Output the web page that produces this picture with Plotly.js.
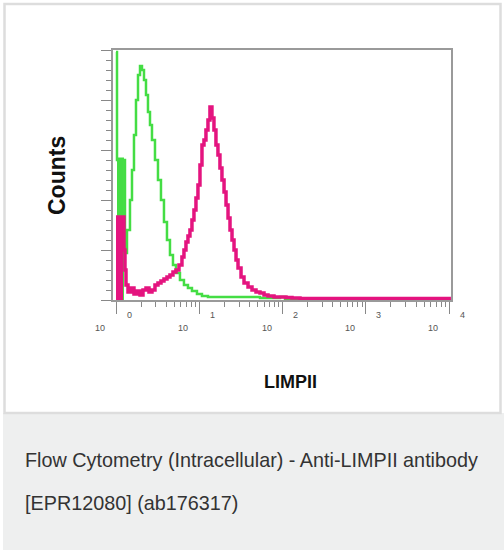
<!DOCTYPE html>
<html>
<head>
<meta charset="utf-8">
<script src="https://cdn.plot.ly/plotly-3.0.1.min.js"></script>
<style>
html,body{margin:0;padding:0;background:#fff;}
#chart{width:504px;height:550px;}
</style>
</head>
<body>
<div id="chart"></div>
<script>
// ---- data ----
// fluorescence intensity (log axis) and counts, step histograms
var greenX = [1.0, 1.028, 1.282, 1.355, 1.472, 1.556, 1.644, 1.738, 1.837, 1.942, 2.051, 2.168, 2.291, 2.421, 2.559, 2.704, 2.938, 3.192, 3.467, 3.767, 4.093, 4.446, 4.831, 5.248, 5.861, 6.546, 7.311, 8.166, 9.376, 10.77, 12.71, 15.85, 19.82, 27.6, 38.46, 53.58, 70.6, 93.1, 106.9, 122.7, 161.8, 10500];
var greenY = [248, 140, 47, 70, 100, 130, 165, 200, 225, 234, 230, 220, 205, 188, 175, 160, 140, 120, 100, 78, 60, 45, 35, 27, 20, 15, 12, 9, 6, 4, 3, 3, 3, 3, 3, 2, 2, 3, 1, 1, 0, 0];
var greenLowX = [1.028, 1.247];
var greenLowY = [142, 142];

var pinkX = [1.0, 1.247, 1.282, 1.318, 1.393, 1.514, 1.644, 1.787, 1.942, 2.109, 2.291, 2.489, 2.704, 2.938, 3.192, 3.467, 3.767, 4.093, 4.446, 4.831, 5.248, 5.702, 6.194, 6.546, 6.918, 7.311, 7.727, 8.166, 8.630, 9.120, 9.638, 10.19, 10.77, 11.38, 12.02, 12.71, 13.43, 14.19, 15.00, 15.85, 16.75, 17.70, 18.71, 19.82, 20.94, 22.13, 23.38, 24.71, 26.12, 27.60, 29.17, 31.70, 34.43, 38.46, 42.95, 47.97, 53.58, 59.84, 66.83, 78.9, 93.1, 109.9, 129.7, 161.8, 10500];
var pinkY = [83, 50, 30, 15, 8, 12, 6, 9, 5, 10, 12, 8, 10, 15, 17, 19, 21, 23, 25, 28, 30, 35, 43, 50, 58, 64, 70, 80, 90, 102, 115, 135, 155, 160, 170, 180, 193, 182, 170, 155, 145, 132, 120, 108, 95, 82, 70, 60, 50, 40, 32, 23, 17, 13, 10, 8, 7, 5, 4, 3, 3, 2.5, 2, 1.5, 1.5];
var pinkLowX = [1.0, 1.213];
var pinkLowY = [83, 83];

var decadeExps = ['0', '1', '2', '3', '4'];
var decadeBase = '10';
var xTitle = 'LIMPII';
var yTitle = 'Counts';
var captionLine1 = 'Flow Cytometry (Intracellular) - Anti-LIMPII antibody';
var captionLine2 = '[EPR12080] (ab176317)';

// ---- layout geometry ----
var W = 504, H = 550;
var L = 113, R = 451, T = 50, B = 300;
var PW = R - L, PH = B - T;
function px(x){ return (x - L) / PW; }
function py(y){ return (B - y) / PH; }

var GREEN = '#44dd44';
var PINK = '#e4147f';
var FONT = 'Liberation Sans, Arial, sans-serif';

var traces = [
  {x: greenLowX, y: greenLowY, type: 'scatter', mode: 'lines', line: {shape: 'hv', color: GREEN, width: 1}, fill: 'tozeroy', fillcolor: GREEN, hoverinfo: 'skip', showlegend: false},
  {x: greenX, y: greenY, type: 'scatter', mode: 'lines', line: {shape: 'hv', color: GREEN, width: 2.5}, showlegend: false},
  {x: pinkLowX, y: pinkLowY, type: 'scatter', mode: 'lines', line: {shape: 'hv', color: PINK, width: 1}, fill: 'tozeroy', fillcolor: PINK, hoverinfo: 'skip', showlegend: false},
  {x: pinkX, y: pinkY, type: 'scatter', mode: 'lines', line: {shape: 'hv', color: PINK, width: 3.5}, showlegend: false}
];

var annotations = [];
decadeExps.forEach(function(e){
  var k = parseFloat(e);
  annotations.push({xref: 'x', yref: 'paper', x: k, y: py(328), xshift: -16, text: decadeBase, showarrow: false,
    font: {family: FONT, size: 9, color: '#555'}, xanchor: 'center', yanchor: 'middle'});
  annotations.push({xref: 'x', yref: 'paper', x: k, y: py(315), xshift: 13, text: e, showarrow: false,
    font: {family: FONT, size: 9, color: '#555'}, xanchor: 'center', yanchor: 'middle'});
});
annotations.push({xref: 'paper', yref: 'paper', x: px(290), y: py(382), text: '<b>' + xTitle + '</b>', showarrow: false,
  font: {family: FONT, size: 18, color: '#111'}, xanchor: 'center', yanchor: 'middle'});
annotations.push({xref: 'paper', yref: 'paper', x: px(57), y: py(175), text: '<b>' + yTitle + '</b>', showarrow: false, textangle: -90,
  font: {family: FONT, size: 23, color: '#111'}, xanchor: 'center', yanchor: 'middle'});
annotations.push({xref: 'paper', yref: 'paper', x: px(23), y: py(460), text: captionLine1, showarrow: false,
  font: {family: FONT, size: 19.8, color: '#333'}, xanchor: 'left', yanchor: 'middle'});
annotations.push({xref: 'paper', yref: 'paper', x: px(23), y: py(503), text: captionLine2, showarrow: false,
  font: {family: FONT, size: 19.8, color: '#333'}, xanchor: 'left', yanchor: 'middle'});

var shapes = [
  {type: 'rect', xref: 'paper', yref: 'paper', layer: 'below', x0: px(3), x1: px(504), y0: py(413), y1: py(550), fillcolor: '#eeefef', line: {width: 0}},
  {type: 'rect', xref: 'paper', yref: 'paper', layer: 'below', x0: px(4.5), x1: px(500.5), y0: py(4), y1: py(413), fillcolor: 'rgba(0,0,0,0)', line: {width: 2.5, color: '#dddddd'}}
];

var layout = {
  width: W, height: H,
  margin: {l: L, r: W - R, t: T, b: H - B, pad: 0},
  paper_bgcolor: '#ffffff', plot_bgcolor: '#ffffff',
  showlegend: false,
  xaxis: {
    type: 'log', range: [-0.036, 4.022], autorange: false,
    showgrid: false, zeroline: false, showline: true, mirror: true, linecolor: '#9a9a9a', linewidth: 2,
    layer: 'below traces',
    tickmode: 'array', tickvals: [1, 10, 100, 1000, 10000], showticklabels: false,
    ticks: 'outside', ticklen: 12, tickwidth: 1, tickcolor: '#888',
    minor: {ticks: 'outside', ticklen: 5, tickwidth: 1, tickcolor: '#888', dtick: 'D1', showgrid: false}
  },
  yaxis: {
    range: [0, 250], autorange: false,
    showgrid: false, zeroline: false, showline: true, mirror: true, linecolor: '#9a9a9a', linewidth: 2,
    layer: 'below traces',
    tickmode: 'linear', tick0: 0, dtick: 50, showticklabels: false,
    ticks: 'outside', ticklen: 10, tickwidth: 1, tickcolor: '#888',
    minor: {ticks: 'outside', ticklen: 5, tickwidth: 1, tickcolor: '#888', dtick: 10, showgrid: false}
  },
  annotations: annotations,
  shapes: shapes
};

Plotly.newPlot('chart', traces, layout, {staticPlot: true, displayModeBar: false});
</script>
</body>
</html>
